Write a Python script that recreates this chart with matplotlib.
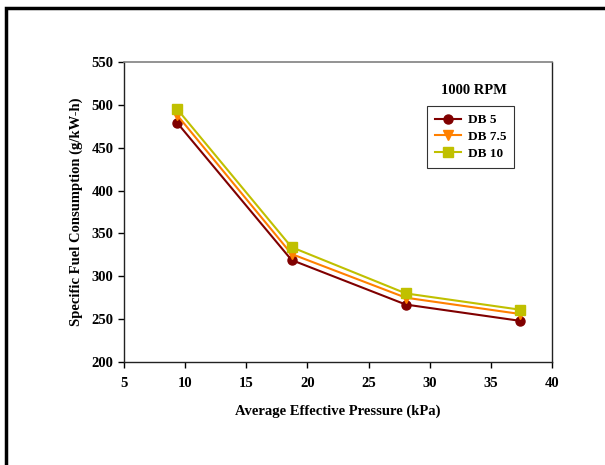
import matplotlib
matplotlib.use("Agg")
import matplotlib.pyplot as plt
from matplotlib.patches import Rectangle

pressure = [9.35, 18.7, 28.05, 37.4]
sfc_db5 = [479, 319, 267, 248]
sfc_db75 = [488, 326, 275, 256]
sfc_db10 = [495, 334, 280, 261]

series = [
    ("DB 5", sfc_db5, "#800000", "o"),
    ("DB 7.5", sfc_db75, "#ff8000", "v"),
    ("DB 10", sfc_db10, "#c0c000", "s"),
]

plt.rcParams["font.family"] = ["Liberation Serif", "DejaVu Serif"]
plt.rcParams["font.weight"] = "bold"

W, H = 605, 465
fig = plt.figure(figsize=(W / 100, H / 100), dpi=100)
ax = fig.add_axes([124 / W, 1 - 362 / H, (552 - 124) / W, (362 - 62) / H])

# outer frame (only top and left edges visible in the reference)
fig.patches.append(Rectangle((6 / W, -0.1), 1.2, 1 - 8 / H + 0.1, transform=fig.transFigure,
                             fill=False, edgecolor="black", linewidth=2.5))

for label, vals, color, marker in series:
    ax.plot(pressure, vals, color=color, marker=marker, markersize=6.5,
            linewidth=1.5, label=label)

ax.set_xlim(5, 40)
ax.set_ylim(200, 550)
ax.set_xticks(range(5, 41, 5))
ax.set_yticks(range(200, 551, 50))
ax.tick_params(direction="out", length=4, labelsize=10.5, width=1)
ax.tick_params(axis="x", pad=7)
for t in ax.get_xticklabels() + ax.get_yticklabels():
    t.set_fontweight("bold")
for s in ["left", "bottom", "right"]:
    ax.spines[s].set_linewidth(1)
    ax.spines[s].set_color("#222222")
ax.spines["top"].set_color("#808080")
ax.spines["top"].set_linewidth(1.2)

ax.set_xlabel("Average Effective Pressure (kPa)", fontsize=10.5, fontweight="bold", labelpad=10)
ax.set_ylabel("Specific Fuel Consumption (g/kW-h)", fontsize=10.5, fontweight="bold", labelpad=6)

fig.text(474 / W, 1 - 91 / H, "1000 RPM", ha="center", va="center", fontsize=10.5, fontweight="bold")
leg = ax.legend(loc="upper left", bbox_to_anchor=((427 - 124) / 428, (362 - 106) / 300),
                borderaxespad=0, frameon=True, fancybox=False, edgecolor="black", fontsize=9.5,
                handlelength=2.0, borderpad=0.6, labelspacing=0.35, handletextpad=0.5)
leg.get_frame().set_linewidth(0.8)
for t in leg.get_texts():
    t.set_fontweight("bold")

fig.savefig("out.png", dpi=100)
